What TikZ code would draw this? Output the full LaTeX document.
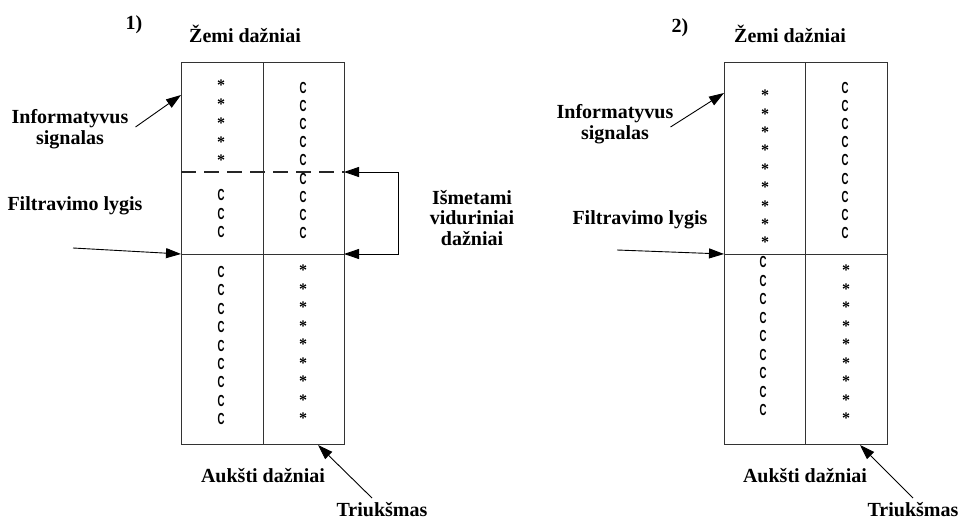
\documentclass[tikz,border=0pt]{standalone}
\usepackage{fontspec}
\setmainfont{Liberation Serif}
\setsansfont{Liberation Sans}
\usepackage{graphicx}
\usetikzlibrary{arrows.meta}
\newcommand{\csym}{\scalebox{0.6}[1]{\sffamily\bfseries C}}
\tikzset{
  lbl/.style      = {font=\fontsize{20}{20.5}\selectfont\bfseries,
                     inner sep=0pt, align=center, anchor=base},
  cellbox/.style  = {black!80, line width=0.8pt},
  midline/.style  = {black!85, line width=1.1pt, dash pattern=on 15pt off 8pt},
  starpt/.style   = {font=\fontsize{16}{16}\selectfont\bfseries,
                     inner sep=0pt, anchor=north},
  cpt/.style      = {font=\fontsize{16}{16}\selectfont, inner sep=0pt},
  arr/.style      = {-{Triangle[length=15pt,width=10pt]}, black, line width=0.9pt},
  dblarr/.style   = {{Triangle[length=15pt,width=10pt]}-{Triangle[length=15pt,width=10pt]},
                     black, line width=0.9pt}
}

\begin{document}
\begin{tikzpicture}[x=1pt,y=-1pt]
  \useasboundingbox (0,0) rectangle (960,519);

  % 1) spectrum with the middle band cut out
  \draw[cellbox] (181,62) rectangle (344,444);
  \draw[cellbox] (263,62) -- (263,444);
  \coordinate (tA) at (181,95);
  \coordinate (fA) at (181,254);
  \coordinate (dA) at (344,172);
  \coordinate (lA) at (344,254);
  \coordinate (bA) at (318,445);
  \draw[midline] (181,172) -- (dA);
  \draw[cellbox] (fA) -- (lA);
  \foreach \i in {0,...,4}
    \node[starpt] (sA\i) at (221,{80+18.75*\i}) {*};
  \foreach \i in {0,...,8}
    \node[cpt] (cA\i) at (303,{88+18.1*\i}) {\csym};
  \foreach \i in {0,...,2}
    \node[cpt] (mA\i) at (221,{195+18.5*\i}) {\csym};
  \foreach \i in {0,...,8}{
    \node[cpt] (dcA\i) at (221,{272+18.4*\i}) {\csym};
    \node[starpt] (dsA\i) at (303,{265+18.5*\i}) {*};
  }

  \node[lbl] (numA) at (134,30) {1)};
  \node[lbl] (lowA) at (245,42) {Žemi dažniai};
  \node[lbl] (infA) at (70,144) {Informatyvus\\signalas};
  \node[lbl] (fltA) at (75,210) {Filtravimo lygis};
  \node[lbl] (cutA) at (472,245) {Išmetami\\viduriniai\\dažniai};
  \node[lbl] (highA) at (263,482) {Aukšti dažniai};
  \node[lbl] (noiA) at (382,516) {Triukšmas};
  \coordinate (fA0) at (73,248);
  \coordinate (nA0) at (372,498);

  \draw[arr] ([shift={(7,-17)}]infA.base east) -- (tA);
  \draw[arr] (fA0) -- (fA);
  \draw[dblarr] (dA) -- ++(54,0) |- (lA);
  \draw[arr] (nA0) -- (bA);

  % 2) plain low-pass filtering
  \draw[cellbox] (724,62) rectangle (887,444);
  \draw[cellbox] (805,62) -- (805,444);
  \coordinate (tB) at (724,93);
  \coordinate (fB) at (724,254);
  \coordinate (bB) at (860,445);
  \draw[cellbox] (fB) -- (887,254);
  \foreach \i in {0,...,8}{
    \node[starpt] (sB\i) at (765,{90+18.4*\i}) {*};
    \node[cpt] (cB\i) at (845,{88+18.1*\i}) {\csym};
    \node[cpt] (dcB\i) at (763,{262+18.5*\i}) {\csym};
    \node[starpt] (dsB\i) at (846,{265+18.5*\i}) {*};
  }

  \node[lbl] (numB) at (680,33) {2)};
  \node[lbl] (lowB) at (790,42) {Žemi dažniai};
  \node[lbl] (infB) at (615,139) {Informatyvus\\signalas};
  \node[lbl] (fltB) at (640,224) {Filtravimo lygis};
  \node[lbl] (highB) at (805,482) {Aukšti dažniai};
  \node[lbl] (noiB) at (913,516) {Triukšmas};
  \coordinate (fB0) at (617,250);
  \coordinate (nB0) at (913,498);

  \draw[arr] ([shift={(-3,-12)}]infB.base east) -- (tB);
  \draw[arr] (fB0) -- (fB);
  \draw[arr] (nB0) -- (bB);
\end{tikzpicture}
\end{document}
